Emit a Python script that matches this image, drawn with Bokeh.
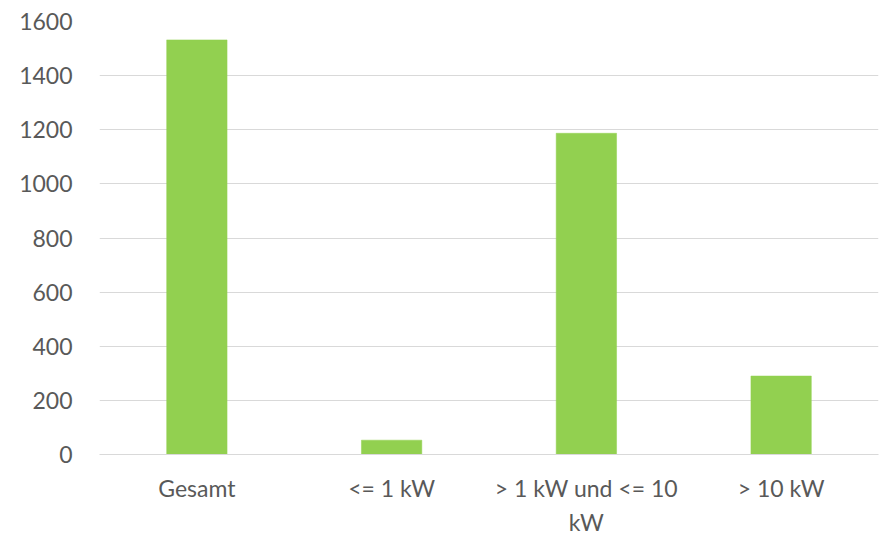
from bokeh.plotting import figure
from bokeh.models import (ColumnDataSource, Range1d, FixedTicker,
                          NumeralTickFormatter, LinearAxis)
from bokeh.embed import file_html
from bokeh.resources import INLINE

# Installed capacity by size class
categories = ["Gesamt", "<= 1 kW", "> 1 kW und <= 10 kW", "> 10 kW"]
label_line1 = ["Gesamt", "<= 1 kW", "> 1 kW und <= 10", "> 10 kW"]
label_line2 = ["", "", "kW", ""]
values = [1532, 53, 1187, 290]
y_ticks = [0, 200, 400, 600, 800, 1000, 1200, 1400, 1600]

# one unit-wide slot per category, bars centred in their slot
slot_centers = [i + 0.5 for i in range(len(categories))]

source = ColumnDataSource(data=dict(x=slot_centers, cat=categories, val=values))

p = figure(
    x_range=Range1d(0, len(categories)),
    y_range=Range1d(0, 1600),
    width=882,
    height=538,
    output_backend="svg",
    toolbar_location=None,
    x_axis_location=None,
    min_border_left=99,
    min_border_right=4,
    min_border_top=21,
    min_border_bottom=77,
)

p.vbar(x="x", top="val", width=0.31, source=source,
       fill_color="#92D050", line_color="#92D050", line_width=0.5)

p.outline_line_color = None
p.background_fill_color = "white"
p.border_fill_color = "white"

FONT = "Lato"
SIZE = "23px"
GRAY = "#595959"

# y axis: gray numbers, no axis line, horizontal grid lines
p.yaxis.ticker = FixedTicker(ticks=y_ticks)
p.yaxis.formatter = NumeralTickFormatter(format="0")
p.yaxis.axis_line_color = None
p.yaxis.major_tick_line_color = None
p.yaxis.minor_tick_line_color = None
p.yaxis.major_label_text_font = FONT
p.yaxis.major_label_text_font_size = SIZE
p.yaxis.major_label_text_color = GRAY
p.yaxis.major_label_standoff = 21

for g in p.ygrid:
    g.grid_line_color = "#d9d9d9"
    g.grid_line_width = 1
for g in p.xgrid:
    g.visible = False


def category_axis(lines, standoff, line_color):
    # category names placed at the slot centres; blank entries get no tick
    ticks = [c for c, t in zip(slot_centers, lines) if t]
    return LinearAxis(
        ticker=FixedTicker(ticks=ticks, minor_ticks=[]),
        major_label_overrides={c: t for c, t in zip(slot_centers, lines) if t},
        axis_line_color=line_color,
        major_tick_line_color=None,
        minor_tick_line_color=None,
        major_label_text_font=FONT,
        major_label_text_font_size=SIZE,
        major_label_text_color=GRAY,
        major_label_text_line_height=0.9,
        major_label_standoff=standoff,
    )


# first line of the names with the baseline, then the wrapped second line
p.add_layout(category_axis(label_line1, 13, "#d9d9d9"), "below")
p.add_layout(category_axis(label_line2, -3, None), "below")

open("out.html", "w").write(file_html(p, INLINE))
